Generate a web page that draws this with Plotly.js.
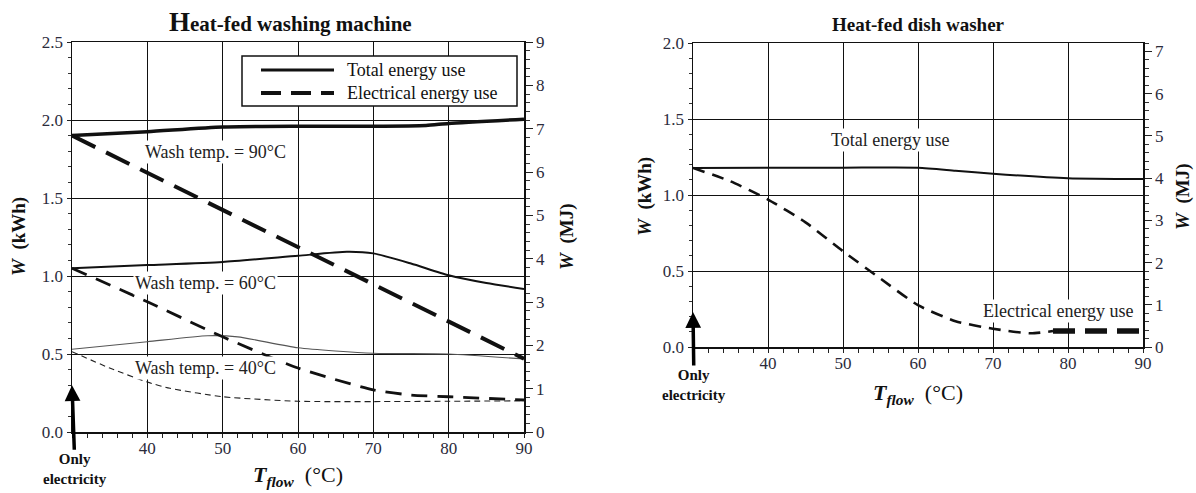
<!DOCTYPE html>
<html>
<head>
<meta charset="utf-8">
<script src="https://cdn.plot.ly/plotly-3.0.1.min.js"></script>
<style>html,body{margin:0;padding:0;background:#fff}#chart{width:1196px;height:493px}</style>
</head>
<body>
<div id="chart"></div>
<script>
// ---- Data (kWh vs T_flow in °C) ----
const xTickVals = [40, 50, 60, 70, 80, 90];

// Heat-fed washing machine
const wash90TotT = [30, 40, 50, 60, 70, 77, 80, 90];
const wash90Tot  = [1.90, 1.925, 1.955, 1.96, 1.96, 1.965, 1.978, 2.005];
const wash90ElT  = [30, 90];
const wash90El   = [1.90, 0.47];

const wash60TotT = [30, 40, 50, 60, 66.5, 70, 75, 80, 85, 90];
const wash60Tot  = [1.05, 1.07, 1.09, 1.13, 1.155, 1.145, 1.08, 1.005, 0.955, 0.917];
const wash60ElT  = [30, 40, 50, 60, 70, 75, 80, 90];
const wash60El   = [1.05, 0.835, 0.61, 0.41, 0.27, 0.237, 0.226, 0.205];

const wash40TotT = [30, 40, 48, 52, 60, 70, 80, 90];
const wash40Tot  = [0.53, 0.579, 0.617, 0.61, 0.54, 0.505, 0.50, 0.468];
const wash40ElT  = [30, 35, 40, 43, 50, 60, 70, 80, 90];
const wash40El   = [0.515, 0.41, 0.32, 0.28, 0.226, 0.197, 0.195, 0.197, 0.20];

// Heat-fed dish washer
const dishTotT = [30, 40, 50, 60, 65, 70, 80, 90];
const dishTot  = [1.178, 1.18, 1.18, 1.18, 1.16, 1.14, 1.11, 1.105];
const dishElT  = [30, 35, 40, 45, 50, 55, 60, 65, 70, 75, 78];
const dishEl   = [1.178, 1.09, 0.97, 0.82, 0.63, 0.45, 0.275, 0.17, 0.12, 0.09, 0.105];
const dishElEndT = [78, 90];
const dishElEnd  = [0.105, 0.105];

const legendLabels = ['Total energy use', 'Electrical energy use'];
const KWH_TO_MJ = 3.6;

// ---- Traces ----
const black = '#111';
function tr(x, y, xa, ya, width, dash, color, shape) {
  return {x: x, y: y, xaxis: xa, yaxis: ya, type: 'scatter', mode: 'lines',
    showlegend: false, hoverinfo: 'skip',
    line: {color: color || black, width: width, dash: dash || 'solid', shape: shape || 'spline', smoothing: 0.6}};
}
const traces = [
  tr(wash40TotT, wash40Tot, 'x', 'y', 1.1, 'solid', '#555'),
  tr(wash40ElT, wash40El, 'x', 'y', 1.1, '6px,4px', '#222'),
  tr(wash60TotT, wash60Tot, 'x', 'y', 2, 'solid'),
  tr(wash60ElT, wash60El, 'x', 'y', 2.8, '16px,10px'),
  tr(wash90TotT, wash90Tot, 'x', 'y', 3.5, 'solid'),
  tr(wash90ElT, wash90El, 'x', 'y', 4, '26px,12px', black, 'linear'),
  tr(dishTotT, dishTot, 'x2', 'y3', 2, 'solid'),
  tr(dishElT, dishEl, 'x2', 'y3', 2.6, '12px,8px'),
  tr(dishElEndT, dishElEnd, 'x2', 'y3', 5.5, '22px,10px', black, 'linear'),
  // the same totals in MJ on the right-hand axes (invisible: they only activate the MJ scales)
  Object.assign(tr(wash90TotT, wash90Tot.map(v => v * KWH_TO_MJ), 'x', 'y2', 1), {opacity: 0}),
  Object.assign(tr(dishTotT, dishTot.map(v => v * KWH_TO_MJ), 'x2', 'y4', 1), {opacity: 0})
];

// ---- Layout ----
const W = 1196, H = 493;
const px = v => v / W;
const py = v => 1 - v / H;
const serif = "'Liberation Serif', 'Times New Roman', Times, serif";
const tickFont = {family: serif, size: 17, color: '#2b2b3b'};

function xAxis(domain, anchor) {
  return {domain: domain, anchor: anchor, range: [30, 90], tickvals: xTickVals, ticktext: xTickVals.map(String),
    showgrid: true, gridcolor: '#111', gridwidth: 1, showline: true, linecolor: '#111', linewidth: 1.5,
    mirror: true, ticks: '', ticklen: 0, tickfont: tickFont, zeroline: false, fixedrange: true,
    minor: {dtick: 2, ticks: 'outside', ticklen: 4, tickcolor: '#222', tickwidth: 1, showgrid: false}};
}
function yAxisL(domain, anchor, max) {
  return {domain: domain, anchor: anchor, range: [0, max], dtick: 0.5, tick0: 0, tickformat: '.1f',
    showgrid: true, gridcolor: '#111', gridwidth: 1, showline: true, linecolor: '#111', linewidth: 1.5,
    ticks: 'outside', ticklen: 4, tickcolor: '#222', tickfont: tickFont, zeroline: false, fixedrange: true,
    minor: {dtick: 0.1, ticks: 'outside', ticklen: 3, tickcolor: '#333', showgrid: false}};
}
function yAxisR(overlay, anchor, max) {
  return {overlaying: overlay, anchor: anchor, side: 'right', range: [0, max], dtick: 1, tick0: 0,
    showgrid: false, showline: true, linecolor: '#111', linewidth: 1.5, ticks: 'outside', ticklen: 7,
    tickcolor: '#222', tickfont: tickFont, zeroline: false, fixedrange: true,
    minor: {dtick: 0.2, ticks: 'outside', ticklen: 4, tickcolor: '#333', showgrid: false}};
}

const dL = [px(72), px(524)], yL = [py(432), py(42)];
const dR = [px(693), px(1143)], yR = [py(347), py(43)];

const ann = [];
function textAnn(text, x, y, opts) {
  ann.push(Object.assign({text: text, x: x, y: y, xref: 'paper', yref: 'paper', showarrow: false,
    xanchor: 'center', yanchor: 'middle', font: {family: serif, size: 16, color: '#111'}}, opts || {}));
}
// Titles
textAnn('<b><span style="font-size:27px">H</span>eat-fed washing machine</b>', px(290), py(22), {font: {family: serif, size: 21, color: '#111'}});
textAnn('<b>Heat-fed dish washer</b>', px(918), py(25), {font: {family: serif, size: 19, color: '#111'}});
// Axis titles
const yTitleKWh = '<b><i>W</i>  (kWh)</b>';
const yTitleMJ = '<b><i>W</i>  (MJ)</b>';
const xTitle = '<b><i>T</i></b><sub><b><i>flow</i></b></sub>  (°C)';
textAnn(yTitleKWh, px(19), py(237), {textangle: -90, font: {family: serif, size: 19, color: '#111'}});
textAnn(yTitleMJ, px(567), py(237), {textangle: -90, font: {family: serif, size: 19, color: '#111'}});
textAnn(yTitleKWh, px(645), py(197), {textangle: -90, font: {family: serif, size: 19, color: '#111'}});
textAnn(yTitleMJ, px(1183), py(197), {textangle: -90, font: {family: serif, size: 19, color: '#111'}});
textAnn(xTitle, px(298), py(476), {font: {family: serif, size: 22, color: '#111'}});
textAnn(xTitle, px(918), py(394), {font: {family: serif, size: 22, color: '#111'}});

// "Only electricity" with its arrow pointing at T_flow = 30 (data coords)
ann.push({text: '<b>Only<br>electricity</b>', x: 30, y: 0.30, xref: 'x', yref: 'y', showarrow: true,
  ax: 3, ay: 84, arrowhead: 2, arrowsize: 0.9, arrowwidth: 3.5, arrowcolor: '#000', standoff: 0,
  font: {family: serif, size: 15, color: '#111'}});
ann.push({text: '<b>Only<br>electricity</b>', x: 30, y: 0.23, xref: 'x2', yref: 'y3', showarrow: true,
  ax: 1, ay: 73, arrowhead: 2, arrowsize: 0.9, arrowwidth: 3.5, arrowcolor: '#000', standoff: 0,
  font: {family: serif, size: 15, color: '#111'}});

// In-plot labels (data coords)
function dataAnn(text, x, y, xref, yref) {
  ann.push({text: text, x: x, y: y, xref: xref, yref: yref, showarrow: false, xanchor: 'center', yanchor: 'middle',
    bgcolor: '#fff', borderpad: 1, font: {family: serif, size: 18, color: '#222'}});
}
dataAnn('Wash temp. = 90°C', 49.1, 1.795, 'x', 'y');
dataAnn('Wash temp. = 60°C', 47.7, 0.955, 'x', 'y');
dataAnn('Wash temp. = 40°C', 47.7, 0.41, 'x', 'y');
dataAnn(legendLabels[0], 56.3, 1.362, 'x2', 'y3');
dataAnn(legendLabels[1], 78.7, 0.237, 'x2', 'y3');

// Legend box (left chart) drawn as a boxed key: sample lines + labels
const shapes = [
  {type: 'rect', xref: 'paper', yref: 'paper', x0: px(242), x1: px(517), y0: py(106), y1: py(56),
    line: {color: '#111', width: 1.5}, fillcolor: '#fff', layer: 'above'},
  {type: 'line', xref: 'paper', yref: 'paper', x0: px(261), x1: px(334), y0: py(70), y1: py(70),
    line: {color: '#111', width: 3}, layer: 'above'},
  {type: 'line', xref: 'paper', yref: 'paper', x0: px(261), x1: px(334), y0: py(93), y1: py(93),
    line: {color: '#111', width: 4, dash: '20px,10px'}, layer: 'above'}
];
textAnn(legendLabels[0], px(345), py(70), {xanchor: 'left', font: {family: serif, size: 18, color: '#111'}});
textAnn(legendLabels[1], px(345), py(93), {xanchor: 'left', font: {family: serif, size: 18, color: '#111'}});

const layout = {
  width: W, height: H, margin: {l: 0, r: 0, t: 0, b: 0}, paper_bgcolor: '#fff', plot_bgcolor: '#fff',
  showlegend: false,
  xaxis: xAxis(dL, 'y'),
  yaxis: yAxisL(yL, 'x', 2.5),
  yaxis2: yAxisR('y', 'x', 2.5 * KWH_TO_MJ),
  xaxis2: xAxis(dR, 'y3'),
  yaxis3: yAxisL(yR, 'x2', 2.0),
  yaxis4: yAxisR('y3', 'x2', 2.0 * KWH_TO_MJ),
  annotations: ann,
  shapes: shapes
};

Plotly.newPlot('chart', traces, layout, {staticPlot: true, displayModeBar: false});
</script>
</body>
</html>
